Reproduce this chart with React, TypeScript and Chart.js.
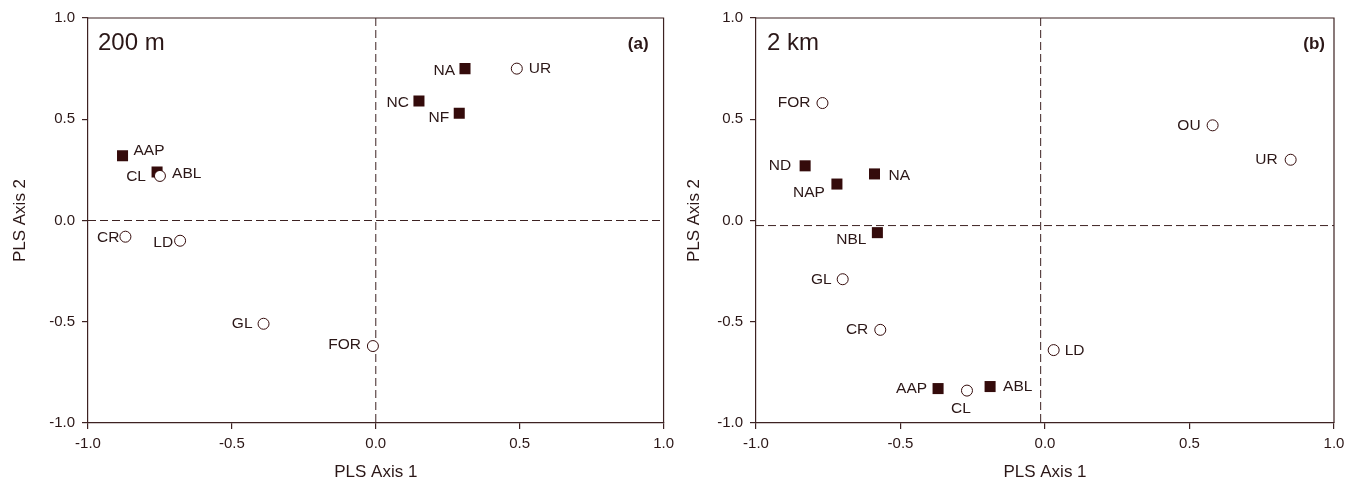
import React, { useEffect, useRef } from "react";
import { Chart, registerables } from "chart.js";

Chart.register(...registerables);

// ---------- DATA ----------
const axisTicks = [-1.0, -0.5, 0.0, 0.5, 1.0];

// Panel (a) 200 m
const aSquareNames = ["NA", "NC", "NF", "AAP", "ABL"];
const aSquareX = [0.31, 0.15, 0.29, -0.88, -0.76];
const aSquareY = [0.75, 0.59, 0.53, 0.32, 0.24];
const aCircleNames = ["UR", "CL", "CR", "LD", "GL", "FOR"];
const aCircleX = [0.49, -0.75, -0.87, -0.68, -0.39, -0.01];
const aCircleY = [0.75, 0.22, -0.08, -0.1, -0.51, -0.62];
const aRefX = 0;
const aRefY = 0;

// Panel (b) 2 km
const bSquareNames = ["ND", "NA", "NAP", "NBL", "AAP", "ABL"];
const bSquareX = [-0.83, -0.59, -0.72, -0.58, -0.37, -0.19];
const bSquareY = [0.27, 0.23, 0.18, -0.06, -0.83, -0.82];
const bCircleNames = ["FOR", "OU", "UR", "GL", "CR", "LD", "CL"];
const bCircleX = [-0.77, 0.58, 0.85, -0.7, -0.57, 0.03, -0.27];
const bCircleY = [0.58, 0.47, 0.3, -0.29, -0.54, -0.64, -0.84];
const bRefX = -0.015;
const bRefY = -0.025;

// ---------- STYLE ----------
const FONT = "'Liberation Sans', Arial, sans-serif";
const TEXT = "#2b1717";
const AXIS = "#3d2222";
const MARK = "#340b0b";

type Place = [CanvasTextAlign, number, number];

const aSquarePlace: Record<string, Place> = {
  NA: ["right", -10, 2],
  NC: ["right", -10, 2],
  NF: ["right", -10, 5],
  AAP: ["left", 11, -5],
  ABL: ["left", 15, 2],
};
const aCirclePlace: Record<string, Place> = {
  UR: ["left", 12, 0],
  CL: ["right", -14, 1],
  CR: ["right", -6, 1],
  LD: ["right", -7, 2],
  GL: ["right", -11, 0],
  FOR: ["right", -12, -1],
};
const bSquarePlace: Record<string, Place> = {
  ND: ["right", -14, 0],
  NA: ["left", 14, 2],
  NAP: ["right", -12, 9],
  NBL: ["right", -11, 7],
  AAP: ["right", -11, 0],
  ABL: ["left", 13, 0],
};
const bCirclePlace: Record<string, Place> = {
  FOR: ["right", -12, 0],
  OU: ["right", -12, 0],
  UR: ["right", -13, 0],
  GL: ["right", -11, 0],
  CR: ["right", -12, 0],
  LD: ["left", 11, 1],
  CL: ["center", -6, 18],
};

interface PanelProps {
  squareNames: string[];
  squareX: number[];
  squareY: number[];
  circleNames: string[];
  circleX: number[];
  circleY: number[];
  refX: number;
  refY: number;
  squarePlace: Record<string, Place>;
  circlePlace: Record<string, Place>;
  title: string;
  tag: string;
  yWidth: number;
  padRight: number;
  yTitlePad: number;
  tagInset: number;
  titleInset: number;
}

function Panel(p: PanelProps) {
  const ref = useRef<HTMLCanvasElement | null>(null);
  useEffect(() => {
    if (!ref.current) return;
    const squares = p.squareX.map((x, i) => ({ x, y: p.squareY[i] }));
    const circles = p.circleX.map((x, i) => ({ x, y: p.circleY[i] }));

    const plugin = {
      id: "decor",
      beforeDatasetsDraw(chart: any) {
        const { ctx, chartArea: ca, scales } = chart;
        const px = scales.x.getPixelForValue(p.refX);
        const py = scales.y.getPixelForValue(p.refY);
        ctx.save();
        ctx.strokeStyle = AXIS;
        ctx.lineWidth = 1;
        ctx.setLineDash([8, 4]);
        ctx.beginPath();
        ctx.moveTo(px, ca.top);
        ctx.lineTo(px, ca.bottom);
        ctx.moveTo(ca.left, py);
        ctx.lineTo(ca.right, py);
        ctx.stroke();
        ctx.restore();
      },
      afterDatasetsDraw(chart: any) {
        const { ctx, chartArea: ca } = chart;
        ctx.save();
        // frame
        ctx.strokeStyle = AXIS;
        ctx.lineWidth = 1.2;
        ctx.beginPath();
        ctx.moveTo(ca.left, ca.top);
        ctx.lineTo(ca.right, ca.top);
        ctx.lineTo(ca.right, ca.bottom);
        ctx.stroke();
        // point labels
        ctx.fillStyle = TEXT;
        ctx.font = `15.5px ${FONT}`;
        ctx.textBaseline = "middle";
        const drawLabels = (dsIndex: number, names: string[], place: Record<string, Place>) => {
          const meta = chart.getDatasetMeta(dsIndex);
          meta.data.forEach((el: any, i: number) => {
            const name = names[i];
            const pl = place[name] || ["left", 10, 0];
            ctx.textAlign = pl[0];
            ctx.fillText(name, el.x + pl[1], el.y + pl[2]);
          });
        };
        drawLabels(0, p.circleNames, p.circlePlace);
        drawLabels(1, p.squareNames, p.squarePlace);
        // panel title and tag
        ctx.textBaseline = "alphabetic";
        ctx.textAlign = "left";
        ctx.font = `24px ${FONT}`;
        ctx.fillText(p.title, ca.left + p.titleInset, ca.top + 32);
        ctx.textAlign = "right";
        ctx.font = `bold 17px ${FONT}`;
        ctx.fillText(p.tag, ca.right - p.tagInset, ca.top + 31);
        ctx.restore();
      },
    };

    const tickFont = { family: FONT, size: 15 };
    const titleFont = { family: FONT, size: 17 };
    const fmt = (v: any) => Number(v).toFixed(1);

    const chart = new Chart(ref.current, {
      type: "scatter",
      data: {
        datasets: [
          {
            label: "open",
            data: circles,
            pointStyle: "circle",
            pointRadius: 5.5,
            pointHoverRadius: 5.5,
            backgroundColor: "#ffffff",
            borderColor: MARK,
            borderWidth: 1,
          },
          {
            label: "filled",
            data: squares,
            pointStyle: "rect",
            pointRadius: 7.8,
            pointHoverRadius: 7.8,
            backgroundColor: MARK,
            borderColor: MARK,
            borderWidth: 0,
          },
        ],
      },
      options: {
        animation: false,
        responsive: false,
        events: [],
        layout: { padding: { left: 0, right: p.padRight, top: 18, bottom: 0 } },
        plugins: { legend: { display: false }, tooltip: { enabled: false } },
        scales: {
          x: {
            type: "linear",
            min: -1,
            max: 1,
            afterBuildTicks: (s: any) => {
              s.ticks = axisTicks.map((v) => ({ value: v }));
            },
            afterFit: (s: any) => {
              s.height = 68;
            },
            ticks: { callback: fmt, font: tickFont, color: TEXT, padding: 6, autoSkip: false, maxRotation: 0 },
            grid: { drawOnChartArea: false, drawTicks: true, tickLength: 6, color: AXIS, lineWidth: 1.2 },
            border: { display: true, color: AXIS, width: 1.2 },
            title: { display: true, text: "PLS Axis 1", font: titleFont, color: TEXT, padding: { top: 0, bottom: 8 } },
          },
          y: {
            type: "linear",
            min: -1,
            max: 1,
            afterBuildTicks: (s: any) => {
              s.ticks = axisTicks.map((v) => ({ value: v }));
            },
            afterFit: (s: any) => {
              s.width = p.yWidth;
            },
            ticks: { callback: fmt, font: tickFont, color: TEXT, padding: 7, autoSkip: false },
            grid: { drawOnChartArea: false, drawTicks: true, tickLength: 6, color: AXIS, lineWidth: 1.2 },
            border: { display: true, color: AXIS, width: 1.2 },
            title: { display: true, text: "PLS Axis 2", font: titleFont, color: TEXT, padding: { top: p.yTitlePad, bottom: 0 } },
          },
        },
      } as any,
      plugins: [plugin],
    });
    return () => chart.destroy();
  }, []);
  return <canvas ref={ref} width={680} height={491} style={{ width: 680, height: 491, display: "block" }} />;
}

export default function App() {
  return (
    <div style={{ position: "fixed", left: 0, top: 0, width: 1360, height: 491, background: "#ffffff", display: "flex" }}>
      <Panel
        squareNames={aSquareNames}
        squareX={aSquareX}
        squareY={aSquareY}
        circleNames={aCircleNames}
        circleX={aCircleX}
        circleY={aCircleY}
        refX={aRefX}
        refY={aRefY}
        squarePlace={aSquarePlace}
        circlePlace={aCirclePlace}
        title="200 m"
        tag="(a)"
        yWidth={88}
        padRight={14}
        yTitlePad={10}
        tagInset={15}
        titleInset={10}
      />
      <Panel
        squareNames={bSquareNames}
        squareX={bSquareX}
        squareY={bSquareY}
        circleNames={bCircleNames}
        circleX={bCircleX}
        circleY={bCircleY}
        refX={bRefX}
        refY={bRefY}
        squarePlace={bSquarePlace}
        circlePlace={bCirclePlace}
        title="2 km"
        tag="(b)"
        yWidth={76}
        padRight={26}
        yTitlePad={4}
        tagInset={9}
        titleInset={11}
      />
    </div>
  );
}
